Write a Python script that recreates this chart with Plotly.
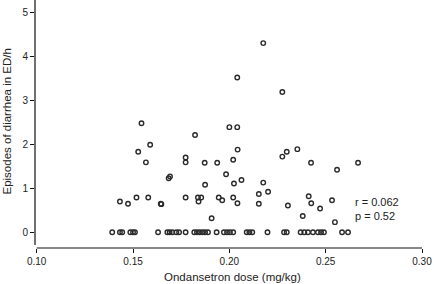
import plotly.graph_objects as go

# Ondansetron dose (mg/kg) for patients with diarrhoea episodes > 0
dose_nonzero = [
    0.1527, 0.1567, 0.1432, 0.1474, 0.1518, 0.2176, 0.2041, 0.2275, 0.1544, 0.1589,
    0.1822, 0.2000, 0.2041, 0.1773, 0.1773, 0.1872, 0.1937, 0.2020, 0.2043, 0.2298,
    0.2275, 0.1692, 0.1685, 0.1983, 0.1874, 0.2024, 0.2063, 0.2176, 0.1579, 0.1644,
    0.1647, 0.1773, 0.1837, 0.1854, 0.1840, 0.1945, 0.1963, 0.2020, 0.2042, 0.2153,
    0.2201, 0.2153, 0.2304, 0.1908, 0.2353, 0.2424, 0.2559, 0.2668, 0.2412, 0.2425,
    0.2471, 0.2533, 0.2381, 0.2548,
]
episodes_nonzero = [
    1.83, 1.59, 0.70, 0.65, 0.79, 4.30, 3.52, 3.19, 2.48, 1.99,
    2.21, 2.39, 2.39, 1.70, 1.59, 1.58, 1.58, 1.65, 1.88, 1.83,
    1.72, 1.27, 1.23, 1.32, 1.08, 1.11, 1.19, 1.13, 0.79, 0.65,
    0.64, 0.79, 0.79, 0.79, 0.70, 0.79, 0.73, 0.79, 0.66, 0.87,
    0.92, 0.65, 0.61, 0.32, 1.89, 1.58, 1.42, 1.58, 0.82, 0.66,
    0.54, 0.73, 0.37, 0.23,
]

# Patients with zero episodes
dose_zero = [
    0.1392, 0.1432, 0.1444, 0.1486, 0.1500, 0.1510, 0.1630, 0.1678, 0.1690, 0.1704,
    0.1725, 0.1739, 0.1773, 0.1818, 0.1832, 0.1846, 0.1860, 0.1874, 0.1889, 0.1934,
    0.1972, 0.1988, 0.2003, 0.2020, 0.2090, 0.2104, 0.2119, 0.2198, 0.2284, 0.2298,
    0.2370, 0.2389, 0.2408, 0.2434, 0.2460, 0.2476, 0.2491, 0.2585, 0.2616,
]
episodes_zero = [0.0] * len(dose_zero)

doses = dose_nonzero + dose_zero
episodes = episodes_nonzero + episodes_zero

x_ticks = [0.10, 0.15, 0.20, 0.25, 0.30]
x_tick_labels = ["0.10", "0.15", "0.20", "0.25", "0.30"]
y_ticks = [0, 1, 2, 3, 4, 5]
x_title = "Ondansetron dose (mg/kg)"
y_title = "Episodes of diarrhea in ED/h"
stats_text = "r = 0.062<br>p = 0.52"

FONT = "Liberation Sans, Arial, Helvetica, sans-serif"
INK = "#222222"

fig = go.Figure()
fig.add_trace(go.Scatter(
    x=doses, y=episodes, mode="markers",
    marker=dict(symbol="circle-open", size=4.5, color="#2a2a2a",
                line=dict(width=1.4, color="#2a2a2a")),
    showlegend=False, hoverinfo="x+y",
))

fig.add_annotation(
    x=0.2640, y=0.54, xref="x", yref="y", text=stats_text,
    showarrow=False, xanchor="left", yanchor="middle", align="left",
    font=dict(family=FONT, size=11, color=INK),
)

# axis titles
fig.add_annotation(
    x=0.5, y=0, xref="paper", yref="paper", text=x_title,
    showarrow=False, xanchor="center", yanchor="top", yshift=-21,
    font=dict(family=FONT, size=11.5, color=INK),
)
fig.add_annotation(
    x=0, y=0.51, xref="paper", yref="paper", text=y_title, textangle=-90,
    showarrow=False, xanchor="center", yanchor="middle", xshift=-28,
    font=dict(family=FONT, size=11.5, color=INK),
)

# detached axis lines
fig.add_shape(type="line", xref="x", yref="paper", x0=0.10, x1=0.30, y0=0, y1=0,
              line=dict(color="#111111", width=1.2))
fig.add_shape(type="line", xref="paper", yref="y", x0=0, x1=0, y0=-0.29, y1=5.4,
              line=dict(color="#111111", width=1.2))

fig.update_layout(
    width=434, height=284,
    margin=dict(l=35, r=4, t=0, b=36),
    paper_bgcolor="white", plot_bgcolor="white",
    font=dict(family=FONT, size=10, color=INK),
    xaxis=dict(
        range=[0.09912, 0.30415], tickvals=x_ticks, ticktext=x_tick_labels,
        ticks="outside", ticklen=4, tickwidth=1.2, tickcolor="#111111",
        showgrid=False, zeroline=False, showline=False, automargin=False,
        tickfont=dict(family=FONT, size=10, color=INK),
    ),
    yaxis=dict(
        range=[-0.357, 5.28], tickvals=y_ticks,
        ticks="outside", ticklen=4, tickwidth=1.2, tickcolor="#111111",
        showgrid=False, zeroline=False, showline=False, automargin=False,
        tickfont=dict(family=FONT, size=10, color=INK),
    ),
)

fig.write_html(
    "out.html",
    config={"displayModeBar": False},
    post_script="document.body.style.margin='0';document.body.style.overflow='hidden';",
)
